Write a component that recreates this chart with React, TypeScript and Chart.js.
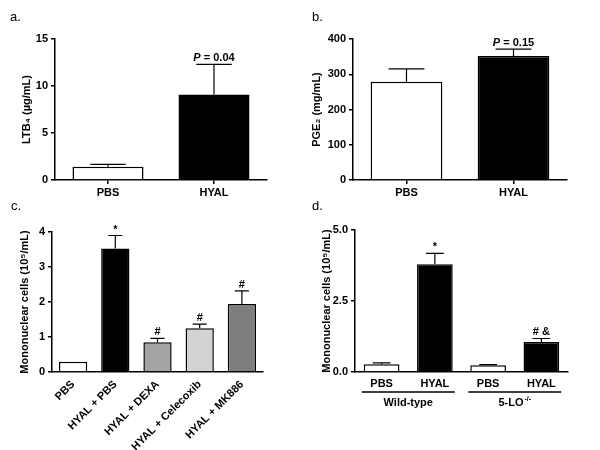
import React, { useEffect, useRef } from "react";
import { Chart, registerables } from "chart.js";
Chart.register(...registerables);

const FONT = "'Liberation Sans', Arial, Helvetica, sans-serif";

// ---- Panel a ----
const aCategories = ["PBS", "HYAL"];
const aValues = [1.4, 9.1];
const aErrors = [0.27, 3.2];
const aMarks = ["", "P = 0.04"];
const aColors = ["#ffffff", "#000000"];

// ---- Panel b ----
const bCategories = ["PBS", "HYAL"];
const bValues = [279, 352];
const bErrors = [36, 19];
const bMarks = ["", "P = 0.15"];
const bColors = ["#ffffff", "#000000"];

// ---- Panel c ----
const cCategories = ["PBS", "HYAL + PBS", "HYAL + DEXA", "HYAL + Celecoxib", "HYAL + MK886"];
const cValues = [0.29, 3.53, 0.85, 1.25, 1.94];
const cErrors = [0, 0.37, 0.11, 0.12, 0.38];
const cMarks = ["", "*", "#", "#", "#"];
const cColors = ["#ffffff", "#000000", "#a4a4a4", "#d3d3d3", "#7d7d7d"];

// ---- Panel d ----
const dCategories = ["PBS", "HYAL", "PBS", "HYAL"];
const dValues = [0.27, 3.79, 0.24, 1.06];
const dErrors = [0.05, 0.39, 0.02, 0.12];
const dMarks = ["", "*", "", "# &"];
const dColors = ["#ffffff", "#000000", "#ffffff", "#000000"];
const dGroupLabels = ["Wild-type", "5-LO"];
const dGroupSup = ["", "-/-"];
const dGroupFrom = [0, 2];
const dGroupTo = [1, 3];

const bold = (s: number) => `bold ${s}px ${FONT}`;

function drawMark(ctx: CanvasRenderingContext2D, text: string, x: number, y: number) {
  ctx.save();
  ctx.fillStyle = "#000";
  ctx.textBaseline = "alphabetic";
  if (text.startsWith("P ")) {
    const rest = text.slice(1);
    ctx.font = `italic bold 11px ${FONT}`;
    const wP = ctx.measureText("P").width;
    ctx.font = bold(11);
    const wR = ctx.measureText(rest).width;
    const start = x - (wP + wR) / 2;
    ctx.textAlign = "left";
    ctx.font = `italic bold 11px ${FONT}`;
    ctx.fillText("P", start, y);
    ctx.font = bold(11);
    ctx.fillText(rest, start + wP, y);
  } else {
    ctx.font = bold(11);
    ctx.textAlign = "center";
    ctx.fillText(text, x, y);
  }
  ctx.restore();
}

const errPlugin = {
  id: "errbars",
  afterDatasetsDraw(chart: any, _args: any, opts: any) {
    const ctx = chart.ctx as CanvasRenderingContext2D;
    const meta = chart.getDatasetMeta(0);
    const ys = chart.scales.y;
    const vals = chart.data.datasets[0].data as number[];
    const errors: number[] = opts.errors || [];
    const marks: string[] = opts.marks || [];
    ctx.save();
    ctx.strokeStyle = "#000";
    ctx.lineWidth = 1.2;
    meta.data.forEach((bar: any, i: number) => {
      const e = errors[i] || 0;
      const top = ys.getPixelForValue(vals[i] + e);
      const cw = bar.width * (opts.capFrac || 0.5);
      if (e > 0) {
        ctx.beginPath();
        ctx.moveTo(bar.x, bar.y);
        ctx.lineTo(bar.x, top);
        ctx.moveTo(bar.x - cw / 2, top);
        ctx.lineTo(bar.x + cw / 2, top);
        ctx.stroke();
      }
      if (marks[i]) drawMark(ctx, marks[i], bar.x, top - (opts.markGap ?? 3));
    });
    ctx.restore();
  },
  afterDraw(chart: any, _args: any, opts: any) {
    if (!opts.groupLabels) return;
    const ctx = chart.ctx as CanvasRenderingContext2D;
    const meta = chart.getDatasetMeta(0);
    const lineY = chart.chartArea.bottom + 20;
    ctx.save();
    opts.groupLabels.forEach((label: string, gi: number) => {
      const b0 = meta.data[opts.groupFrom[gi]];
      const b1 = meta.data[opts.groupTo[gi]];
      const x0 = b0.x - b0.width / 2 - 2;
      const x1 = b1.x + b1.width / 2 + 2;
      ctx.strokeStyle = "#000";
      ctx.lineWidth = 1.5;
      ctx.beginPath();
      ctx.moveTo(x0, lineY);
      ctx.lineTo(x1, lineY);
      ctx.stroke();
      const sup = opts.groupSup[gi] || "";
      ctx.font = bold(11);
      const w1 = ctx.measureText(label).width;
      ctx.font = bold(7);
      const w2 = sup ? ctx.measureText(sup).width + 1 : 0;
      const cx = (x0 + x1) / 2;
      const start = cx - (w1 + w2) / 2;
      ctx.fillStyle = "#000";
      ctx.textAlign = "left";
      ctx.textBaseline = "alphabetic";
      ctx.font = bold(11);
      ctx.fillText(label, start, lineY + 14);
      if (sup) {
        ctx.font = bold(7);
        ctx.fillText(sup, start + w1 + 1, lineY + 9);
      }
    });
    ctx.restore();
  },
};

function makeConfig(p: any) {
  const tickFont = { family: FONT, size: 11, weight: "bold" as const };
  return {
    type: "bar" as const,
    data: {
      labels: p.labels,
      datasets: [
        {
          data: p.values,
          backgroundColor: p.colors,
          borderColor: "#000",
          borderWidth: 1.5,
          barPercentage: 0.67,
          categoryPercentage: 1,
        },
      ],
    },
    plugins: [errPlugin],
    options: {
      animation: false,
      responsive: false,
      devicePixelRatio: 1,
      layout: { padding: { left: 0, top: p.top, right: p.right, bottom: 0 } },
      plugins: {
        legend: { display: false },
        tooltip: { enabled: false },
        errbars: {
          errors: p.errors,
          marks: p.marks,
          capFrac: 0.5,
          markGap: 3,
          groupLabels: p.groupLabels,
          groupSup: p.groupSup,
          groupFrom: p.groupFrom,
          groupTo: p.groupTo,
        },
      },
      scales: {
        x: {
          grid: {
            display: true,
            drawOnChartArea: false,
            offset: false,
            drawTicks: p.xTicks,
            tickLength: 4,
            color: "#000",
            lineWidth: 1.5,
          },
          border: { display: true, color: "#000", width: 1.5 },
          ticks: {
            color: "#000",
            font: tickFont,
            padding: p.xPad,
            maxRotation: p.rot,
            minRotation: p.rot,
            autoSkip: false,
          },
          afterFit: (s: any) => {
            s.height = p.xHeight;
          },
        },
        y: {
          min: 0,
          max: p.max,
          grid: {
            display: true,
            drawOnChartArea: false,
            drawTicks: true,
            tickLength: 4,
            color: "#000",
            lineWidth: 1.5,
          },
          border: { display: true, color: "#000", width: 1.5 },
          ticks: {
            stepSize: p.step,
            color: "#000",
            font: tickFont,
            padding: 3,
            callback: p.fmt,
          },
          title: {
            display: true,
            text: p.title,
            color: "#000",
            font: tickFont,
            padding: { top: p.titlePad, bottom: 0 },
          },
          afterFit: (s: any) => {
            s.width = p.yWidth;
          },
        },
      },
    },
  };
}

const configs = [
  {
    pos: { left: 0, top: 0, w: 300, h: 220 },
    letter: "a.",
    cfg: {
      labels: aCategories, values: aValues, errors: aErrors, marks: aMarks, colors: aColors,
      top: 39, right: 33, xHeight: 40, yWidth: 55, max: 15, step: 5, title: "LTB\u2084 (\u00b5g/mL)",
      titlePad: 20, xTicks: true, xPad: 2, rot: 0,
    },
  },
  {
    pos: { left: 300, top: 0, w: 300, h: 220 },
    letter: "b.",
    cfg: {
      labels: bCategories, values: bValues, errors: bErrors, marks: bMarks, colors: bColors,
      top: 39, right: 33, xHeight: 40, yWidth: 53, max: 400, step: 100, title: "PGE\u2082 (mg/mL)",
      titlePad: 10, xTicks: true, xPad: 2, rot: 0,
    },
  },
  {
    pos: { left: 0, top: 220, w: 300, h: 230 },
    letter: "c.",
    cfg: {
      labels: cCategories, values: cValues, errors: cErrors, marks: cMarks, colors: cColors,
      top: 12, right: 37, xHeight: 78, yWidth: 52, max: 4, step: 1,
      title: "Mononuclear cells (10\u2075/mL)", titlePad: 18, xTicks: false, xPad: 6, rot: 45,
    },
  },
  {
    pos: { left: 300, top: 220, w: 300, h: 230 },
    letter: "d.",
    cfg: {
      labels: dCategories, values: dValues, errors: dErrors, marks: dMarks, colors: dColors,
      top: 10, right: 32, xHeight: 78, yWidth: 55, max: 5, step: 2.5,
      fmt: (v: number) => v.toFixed(1),
      title: "Mononuclear cells (10\u2075/mL)", titlePad: 20, xTicks: false, xPad: 5, rot: 0,
      groupLabels: dGroupLabels, groupSup: dGroupSup, groupFrom: dGroupFrom, groupTo: dGroupTo,
    },
  },
];

function Panel({ item }: { item: any }) {
  const ref = useRef<HTMLCanvasElement>(null);
  useEffect(() => {
    const chart = new Chart(ref.current as HTMLCanvasElement, makeConfig(item.cfg) as any);
    return () => chart.destroy();
  }, []);
  const { left, top, w, h } = item.pos;
  return (
    <canvas
      ref={ref}
      width={w}
      height={h}
      style={{ position: "absolute", left, top, width: w, height: h }}
    />
  );
}

const letterPos = [
  { left: 10, top: 10 },
  { left: 312, top: 10 },
  { left: 11, top: 199 },
  { left: 312, top: 199 },
];

export default function App() {
  return (
    <div style={{ position: "absolute", left: 0, top: 0, width: 600, height: 450, background: "#fff" }}>
      {configs.map((c, i) => (
        <Panel key={i} item={c} />
      ))}
      {configs.map((c, i) => (
        <div
          key={"l" + i}
          style={{
            position: "absolute",
            left: letterPos[i].left,
            top: letterPos[i].top,
            fontFamily: FONT,
            fontSize: 13,
            lineHeight: "13px",
            color: "#000",
            zIndex: 2,
          }}
        >
          {c.letter}
        </div>
      ))}
    </div>
  );
}
